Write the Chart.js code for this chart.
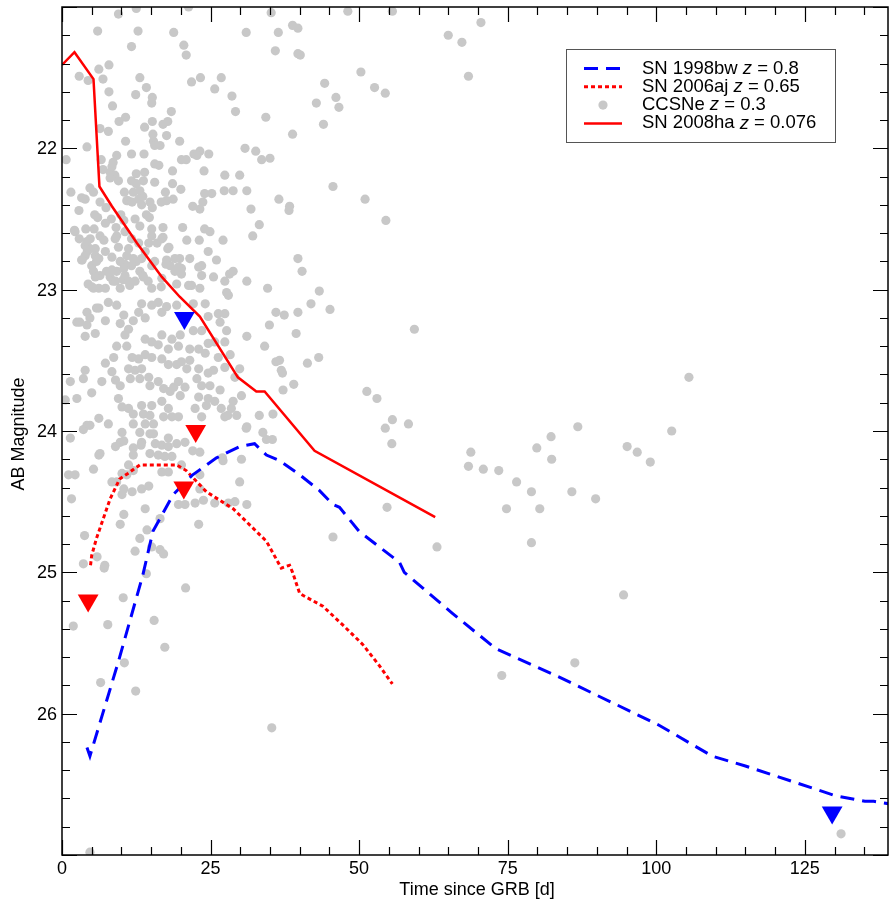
<!DOCTYPE html>
<html>
<head>
<meta charset="utf-8">
<script src="https://cdn.jsdelivr.net/npm/chart.js@4/dist/chart.umd.min.js"></script>
<style>
html,body{margin:0;padding:0;background:#fff;}
canvas{display:block;}
</style>
</head>
<body>
<canvas id="c" width="889" height="903"></canvas>
<script>
// ---------------- DATA ----------------
const xTickValues = [0, 25, 50, 75, 100, 125];
const yTickValues = [22, 23, 24, 25, 26];
const xMinorStep = 5;
const yMinorStep = 0.2;
const xTitle = 'Time since GRB [d]';
const yTitle = 'AB Magnitude';

// SN 1998bw z = 0.8 (blue dashed)
const sn1998bwX = [4.2, 4.7, 9.5, 13.6, 15.3, 18.7, 22.0, 26.0, 29.9, 32.4, 34.4, 36.6, 40.0, 43.3, 45.6, 46.7, 50.0, 56.8, 57.6, 65.7, 73.0, 83.6, 100.4, 109.4, 115.0, 130.1, 135.1, 136.6, 141.0];
const sn1998bwY = [26.24, 26.30, 25.63, 25.02, 24.71, 24.45, 24.31, 24.19, 24.11, 24.09, 24.17, 24.21, 24.31, 24.42, 24.52, 24.54, 24.71, 24.93, 25.00, 25.29, 25.54, 25.74, 26.08, 26.30, 26.37, 26.58, 26.62, 26.62, 26.65];

// SN 2006aj z = 0.65 (red dotted)
const sn2006ajX = [4.8, 5.0, 5.8, 8.1, 9.7, 11.1, 13.1, 19.3, 20.9, 24.3, 28.8, 34.4, 36.9, 38.3, 38.8, 40.0, 43.9, 47.2, 50.6, 53.4, 55.6];
const sn2006ajY = [24.95, 24.88, 24.76, 24.48, 24.34, 24.30, 24.24, 24.24, 24.28, 24.43, 24.55, 24.78, 24.97, 24.95, 25.00, 25.15, 25.24, 25.37, 25.51, 25.66, 25.79];

// SN 2008ha z = 0.076 (red solid)
const sn2008haX = [0.0, 2.1, 5.3, 6.3, 8.4, 12.6, 16.8, 19.8, 23.2, 29.6, 32.7, 34.1, 42.5, 62.8];
const sn2008haY = [21.41, 21.32, 21.51, 22.27, 22.41, 22.67, 22.91, 23.05, 23.19, 23.62, 23.72, 23.72, 24.14, 24.61];

// Upper limits (downward triangles)
const limitsBlueX = [20.6, 129.6];
const limitsBlueY = [23.20, 26.70];
const limitsRedX = [22.5, 20.5, 4.4];
const limitsRedY = [24.00, 24.40, 25.20];

// CCSNe z = 0.3 (grey dots), [time, magnitude]
const ccsnePoints = [
[9.5,21.05],[12.5,21.01],[21.3,21.0],[35.2,21.04],[6.0,21.17],[12.8,21.17],[18.8,21.18],[31.0,21.18],[36.4,21.18],[38.8,21.13],[11.7,21.28],[20.5,21.27],[20.9,21.34],[35.9,21.31],[39.7,21.33],[7.9,21.41],[6.2,21.44],[2.9,21.49],[4.4,21.52],[6.9,21.51],[13.1,21.50],[21.8,21.53],[23.3,21.50],[26.8,21.50],[7.9,21.60],[14.2,21.57],[12.4,21.62],[15.2,21.64],[15.1,21.68],[18.4,21.74],[25.7,21.58],[28.6,21.63],[29.2,21.74],[8.5,21.70],[10.7,21.78],[9.6,21.81],[34.3,21.78],[38.8,21.90],[6.4,21.86],[7.8,21.88],[13.9,21.85],[15.2,21.81],[17.0,21.83],[17.8,21.81],[15.3,21.90],[17.6,21.91],[19.8,21.95],[10.7,21.95],[15.4,21.95],[16.5,21.98],[4.2,21.99],[11.7,22.04],[13.8,22.04],[15.6,21.98],[23.2,22.02],[24.7,22.04],[20.1,22.08],[20.9,22.08],[22.2,22.04],[30.8,22.0],[32.6,22.02],[33.6,22.08],[35.0,22.07],[0.7,22.08],[9.2,22.05],[8.6,22.10],[6.9,22.15],[8.1,22.17],[8.9,22.19],[9.5,22.23],[15.6,22.11],[16.3,22.12],[12.5,22.18],[13.9,22.17],[18.6,22.16],[11.7,22.23],[12.5,22.25],[12.0,22.31],[13.1,22.30],[15.6,22.24],[18.6,22.25],[20.0,22.29],[27.4,22.19],[29.9,22.19],[1.5,22.31],[4.7,22.28],[5.3,22.31],[3.3,22.35],[28.8,22.30],[31.1,22.30],[24.0,22.32],[23.7,22.38],[22.0,22.41],[23.2,22.43],[25.2,22.32],[6.4,22.38],[7.4,22.42],[10.9,22.37],[13.6,22.34],[18.7,22.36],[17.6,22.37],[16.7,22.38],[15.2,22.42],[2.85,22.44],[36.5,22.36],[38.2,22.44],[31.8,22.43],[5.5,22.47],[8.3,22.50],[9.9,22.47],[10.4,22.51],[14.2,22.47],[13.1,22.55],[15.1,22.57],[20.3,22.56],[24.0,22.57],[24.9,22.59],[27.1,22.65],[33.2,22.54],[32.1,22.62],[2.2,22.59],[4.0,22.57],[5.4,22.57],[2.9,22.64],[3.9,22.69],[4.7,22.71],[4.25,22.73],[6.4,22.62],[7.05,22.65],[9.2,22.62],[10.6,22.59],[11.7,22.64],[17.0,22.56],[17.0,22.63],[17.8,22.71],[39.7,22.78],[3.3,22.79],[5.0,22.83],[5.8,22.80],[6.4,22.90],[7.5,22.87],[10.9,22.76],[10.6,22.82],[11.7,22.83],[12.5,22.80],[13.1,22.87],[15.1,22.83],[15.6,22.80],[17.5,22.82],[19.8,22.78],[20.1,22.85],[23.5,22.83],[28.2,22.89],[4.4,22.96],[5.3,22.99],[8.1,22.91],[8.6,22.94],[10.3,22.93],[11.4,22.97],[13.6,22.90],[14.5,22.94],[16.7,22.98],[19.3,22.96],[21.8,22.97],[23.5,22.90],[27.7,23.02],[34.6,22.99],
[48.1,21.03],[55.6,21.03],[39.7,21.15],[70.5,21.11],[65.0,21.20],[67.3,21.25],[68.4,21.49],[40.1,21.34],[50.3,21.46],[44.2,21.54],[52.6,21.57],[54.4,21.61],[42.8,21.68],[46.1,21.64],[46.6,21.71],[44.0,21.83],[45.6,22.27],[51.0,22.36],[38.3,22.41],[54.5,22.51],[40.4,22.87],[43.3,23.01],
[41.9,23.10],[45.1,23.14],[39.7,23.16],[37.4,23.18],[39.4,23.31],[59.3,23.28],[36.6,23.50],[37.1,23.59],[37.2,23.71],[39.0,23.67],[41.3,23.52],[43.2,23.48],[51.3,23.72],[53.0,23.77],[55.6,23.92],[54.4,23.98],[58.3,23.95],[55.5,24.09],[68.8,24.15],[68.4,24.25],[70.9,24.27],[73.5,24.28],[76.5,24.36],[79.0,24.43],[74.8,24.55],[80.4,24.55],[79.9,24.12],[82.3,24.04],[82.4,24.20],[85.8,24.43],[86.8,23.97],[79.0,24.79],[54.7,24.54],[45.6,24.75],[63.1,24.82],
[105.5,23.62],[102.6,24.0],[95.1,24.11],[96.8,24.15],[99.0,24.22],[89.8,24.48],[74.0,25.73],[86.3,25.64],[94.5,25.16],[131.1,26.85],
[7.1,24.97],[14.2,25.01],[20.8,25.11],[10.3,25.18],[1.9,25.38],[7.7,25.37],[15.5,25.34],[17.3,25.53],[10.5,25.64],[6.5,25.78],[12.4,25.84],[35.3,26.10],[4.7,26.98],
[6.6,22.08],[8.4,22.13],[8.1,22.21],[22.7,22.05],[23.9,22.16],[13.7,22.23],[17.4,22.31],[3.9,22.36],[10.5,22.31],[11.1,22.37],[11.8,22.38],[12.9,22.36],[13.4,22.40],[14.8,22.38],[27.3,22.30],[6.0,22.49],[7.3,22.53],[9.1,22.56],[12.3,22.50],[14.7,22.49],[21.0,22.65],[23.1,22.65],[2.1,22.58],[4.2,22.66],[4.75,22.64],[5.6,22.71],[3.9,22.76],[5.6,22.76],[6.2,22.78],[8.95,22.64],[7.3,22.73],[8.4,22.77],[9.5,22.70],[9.8,22.80],[11.2,22.71],[12.9,22.67],[12.0,22.78],[13.4,22.78],[14.0,22.73],[14.6,22.67],[16.0,22.67],[15.1,22.62],[16.8,22.64],[18.0,22.70],[19.0,22.78],[17.6,22.79],[19.6,22.84],[20.1,22.89],[21.5,22.78],[23.0,22.84],[24.6,22.73],[26.0,22.79],[25.5,22.91],[27.4,22.94],[28.8,22.87],[28.0,23.04],[31.1,22.94],[3.4,22.79],[5.3,22.87],[5.6,22.91],[5.0,22.98],[6.2,22.99],[7.3,22.99],[8.4,22.86],[9.2,22.87],[10.4,22.85],[10.6,22.90],[9.0,22.94],[9.8,22.99],[11.2,22.94],[13.7,22.91],[12.3,22.94],[15.1,22.99],[16.8,22.92],[18.2,22.83],[19.0,22.87],[21.3,22.97],[23.2,22.99],
[2.5,23.23],[3.9,23.33],[4.2,23.25],[5.6,23.31],[7.3,23.22],[6.2,23.13],[4.2,23.16],[7.8,23.09],[9.2,23.11],[10.4,23.18],[9.8,23.24],[11.2,23.28],[10.6,23.32],[12.0,23.22],[12.9,23.16],[13.4,23.10],[14.0,23.20],[15.1,23.11],[16.2,23.09],[16.8,23.16],[17.6,23.12],[19.3,23.11],[22.1,23.10],[24.1,23.10],[24.6,23.19],[26.3,23.17],[27.4,23.17],[26.6,23.23],[31.1,23.33],[27.7,23.29],[27.4,23.37],[25.7,23.37],[24.6,23.38],[23.5,23.29],[22.1,23.29],[24.1,23.45],[26.3,23.48],[28.3,23.46],[27.4,23.55],[25.5,23.57],[29.1,23.62],[29.9,23.56],[16.8,23.32],[18.5,23.35],[19.9,23.32],[19.6,23.40],[17.9,23.42],[16.2,23.39],[15.1,23.37],[14.0,23.35],[21.5,23.42],[23.0,23.42],[21.5,23.50],[20.1,23.51],[21.0,23.56],[23.0,23.56],[24.6,23.59],[7.3,23.52],[8.7,23.48],[9.2,23.40],[10.9,23.40],[11.8,23.48],[12.9,23.49],[14.0,23.46],[15.1,23.48],[16.8,23.49],[17.9,23.53],[19.3,23.53],[3.9,23.57],[3.6,23.63],[1.4,23.65],[0.55,23.78],[2.5,23.77],[5.0,23.73],[6.7,23.65],[8.4,23.58],[9.0,23.64],[9.8,23.68],[11.2,23.56],[11.5,23.63],[12.3,23.57],[13.4,23.56],[13.1,23.63],[14.6,23.62],[14.8,23.68],[16.2,23.65],[17.1,23.70],[18.2,23.72],[18.8,23.69],[19.6,23.65],[20.7,23.69],[19.9,23.75],[22.7,23.63],[23.5,23.68],[24.9,23.68],[26.6,23.71],[23.0,23.76],[24.6,23.77],[25.7,23.79],[28.5,23.84],[29.4,23.89],[27.4,23.90],[30.2,23.75],[9.5,23.77],[10.1,23.83],[11.2,23.84],[12.0,23.88],[13.4,23.82],[13.7,23.88],[15.1,23.82],[14.8,23.89],[16.8,23.79],[17.9,23.84],[17.1,23.90],[18.5,23.90],[19.6,23.90],[15.4,23.95],[14.0,23.95],[12.0,23.95],[6.2,23.91],[7.8,23.95],[4.2,23.96],[3.6,23.99],[1.4,24.05],[10.1,24.01],[9.8,24.08],[13.1,24.01],[14.8,24.02],[15.4,24.02],[17.9,24.05],[16.8,24.10],[19.3,24.09],[13.4,24.08],[22.4,23.84],[23.5,23.90],[31.1,23.97],
[9.0,24.11],[10.4,24.07],[12.0,24.12],[13.3,24.10],[15.7,24.09],[17.9,24.11],[14.8,24.16],[16.2,24.17],[17.3,24.18],[18.5,24.18],[12.0,24.17],[6.2,24.17],[20.7,24.08],[22.0,24.14],[23.2,24.15],[20.1,24.24],[16.8,24.29],[17.9,24.29],[11.2,24.24],[12.0,24.28],[10.9,24.31],[10.1,24.30],[1.1,24.31],[2.2,24.31],[5.3,24.27],[27.1,24.21],[30.2,24.20],[8.4,24.36],[9.2,24.36],[10.4,24.41],[11.8,24.43],[13.4,24.41],[14.6,24.39],[10.1,24.45],[1.6,24.48],[23.2,24.31],[23.2,24.41],[23.8,24.49],[19.6,24.52],[20.7,24.52],[22.4,24.51],[25.7,24.51],[28.0,24.51],[29.1,24.50],[31.1,24.52],[14.0,24.55],[10.4,24.59],[9.8,24.66],[16.5,24.62],[23.0,24.66],[14.3,24.70],[13.1,24.76],[12.3,24.85],[15.1,24.82],[16.5,24.84],[17.1,24.87],[3.8,24.74],[5.9,24.89],[3.6,24.94],[7.2,24.95],
[36.0,23.16],[34.9,23.25],[34.1,23.40],[36.0,23.51],[36.9,23.57],[35.5,23.88],[33.2,23.89],[33.8,24.01],[34.4,24.06],[35.4,24.06],[31.0,23.98],[27.9,23.89],[24.3,23.82],[26.8,23.84],[28.8,23.79],[27.0,24.19],[29.9,24.36],[3.0,23.23],[4.7,23.20],[5.8,23.13],[6.4,24.16],[4.7,23.96]
];

const legendEntries = [
  {name: 'SN 1998bw ', z: '0.8'},
  {name: 'SN 2006aj ', z: '0.65'},
  {name: 'CCSNe ', z: '0.3'},
  {name: 'SN 2008ha ', z: '0.076'}
];

// ---------------- CHART ----------------
const FONT = '"Liberation Sans", Arial, Helvetica, sans-serif';
Chart.defaults.font.family = FONT;
Chart.defaults.color = '#000';

const zip = (xs, ys) => xs.map((x, i) => ({x: x, y: ys[i]}));

const BLUE = '#0000ff', RED = '#ff0000', GREY = '#c8c8c8';

const datasets = [
  {label: 'limitsBlue', data: zip(limitsBlueX, limitsBlueY), showLine: false, pointStyle: 'triangle', rotation: 180, pointRadius: 12, backgroundColor: BLUE, borderWidth: 0, order: 0},
  {label: 'limitsRed', data: zip(limitsRedX, limitsRedY), showLine: false, pointStyle: 'triangle', rotation: 180, pointRadius: 12, backgroundColor: RED, borderWidth: 0, order: 0},
  {label: 'SN 1998bw', data: zip(sn1998bwX, sn1998bwY), showLine: true, borderColor: BLUE, borderWidth: 3, borderDash: [14, 8], pointRadius: 0, fill: false, order: 2},
  {label: 'SN 2006aj', data: zip(sn2006ajX, sn2006ajY), showLine: true, borderColor: RED, borderWidth: 3, borderDash: [4, 3], pointRadius: 0, fill: false, order: 2},
  {label: 'SN 2008ha', data: zip(sn2008haX, sn2008haY), showLine: true, borderColor: RED, borderWidth: 2.5, pointRadius: 0, fill: false, order: 2},
  {label: 'CCSNe', data: ccsnePoints.map(p => ({x: p[0], y: p[1]})), showLine: false, pointRadius: 4.6, backgroundColor: GREY, borderWidth: 0, order: 10}
];

const framePlugin = {
  id: 'frame',
  afterDatasetsDraw(chart) {
    const {ctx, chartArea: a, scales: {x, y}} = chart;
    ctx.save();
    ctx.strokeStyle = '#000';
    ctx.lineWidth = 1.5;
    ctx.strokeRect(a.left, a.top, a.right - a.left, a.bottom - a.top);
    ctx.lineWidth = 1.2;
    const MAJ = 15, MIN = 8;
    ctx.beginPath();
    for (let v = x.min; v <= x.max + 1e-9; v += xMinorStep) {
      const px = Math.round(x.getPixelForValue(v)) + 0.5;
      const len = xTickValues.includes(Math.round(v)) ? MAJ : MIN;
      ctx.moveTo(px, a.bottom); ctx.lineTo(px, a.bottom - len);
      ctx.moveTo(px, a.top); ctx.lineTo(px, a.top + len);
    }
    for (let k = 0; ; k++) {
      const v = y.min + k * yMinorStep;
      if (v > y.max + 1e-9) break;
      const py = Math.round(y.getPixelForValue(v)) + 0.5;
      const isMaj = Math.abs(v - Math.round(v)) < 1e-6;
      const len = isMaj ? MAJ : MIN;
      ctx.moveTo(a.left, py); ctx.lineTo(a.left + len, py);
      ctx.moveTo(a.right, py); ctx.lineTo(a.right - len, py);
    }
    ctx.stroke();

    // tick labels and axis titles
    ctx.fillStyle = '#000';
    ctx.font = '18px ' + FONT;
    ctx.textAlign = 'center';
    ctx.textBaseline = 'middle';
    xTickValues.forEach(v => ctx.fillText(String(v), x.getPixelForValue(v), a.bottom + 14.5));
    ctx.textAlign = 'right';
    yTickValues.forEach(v => ctx.fillText(String(v), a.left - 5, y.getPixelForValue(v) + 1));
    ctx.textAlign = 'center';
    ctx.fillText(xTitle, (a.left + a.right) / 2 + 2, a.bottom + 35);
    ctx.save();
    ctx.translate(19, (a.top + a.bottom) / 2 + 3);
    ctx.rotate(-Math.PI / 2);
    ctx.fillText(yTitle, 0, 0);
    ctx.restore();
    ctx.restore();
  }
};

const legendPlugin = {
  id: 'customLegend',
  afterDraw(chart) {
    const {ctx} = chart;
    const ds = chart.data.datasets;
    const bx = 566, by = 49.5, bw = 269, bh = 93;
    ctx.save();
    ctx.fillStyle = '#fff';
    ctx.fillRect(bx, by, bw, bh);
    ctx.strokeStyle = '#555';
    ctx.lineWidth = 1;
    ctx.strokeRect(bx + 0.5, by, bw, bh);
    const rows = [68.5, 86.8, 105.1, 123.4];
    const sampleX0 = 584, sampleX1 = 622, textX = 642;
    const styles = [ds[2], ds[3], ds[5], ds[4]];
    const fs = 18.5;
    styles.forEach((d, i) => {
      const yy = rows[i];
      if (d.showLine) {
        ctx.beginPath();
        ctx.strokeStyle = d.borderColor;
        ctx.lineWidth = d.borderWidth;
        ctx.setLineDash(d.borderDash || []);
        ctx.moveTo(sampleX0, yy); ctx.lineTo(sampleX1, yy);
        ctx.stroke();
        ctx.setLineDash([]);
      } else {
        ctx.beginPath();
        ctx.fillStyle = d.backgroundColor;
        ctx.arc(603, yy, d.pointRadius, 0, Math.PI * 2);
        ctx.fill();
      }
      const e = legendEntries[i];
      ctx.fillStyle = '#000';
      ctx.textBaseline = 'middle';
      ctx.textAlign = 'left';
      let tx = textX;
      ctx.font = fs + 'px ' + FONT;
      ctx.fillText(e.name, tx, yy); tx += ctx.measureText(e.name).width;
      ctx.font = 'italic ' + fs + 'px ' + FONT;
      ctx.fillText('z', tx, yy); tx += ctx.measureText('z').width;
      ctx.font = fs + 'px ' + FONT;
      const rest = ' = ' + e.z;
      ctx.fillText(rest, tx, yy);
    });
    ctx.restore();
  }
};

new Chart(document.getElementById('c').getContext('2d'), {
  type: 'scatter',
  data: {datasets: datasets},
  options: {
    responsive: false,
    animation: false,
    devicePixelRatio: 1,
    layout: {autoPadding: false, padding: {top: 7, right: 1, left: 0, bottom: 0}},
    plugins: {legend: {display: false}, tooltip: {enabled: false}},
    scales: {
      x: {
        type: 'linear', min: 0, max: 139,
        afterFit(s) { s.height = 48; },
        afterBuildTicks(s) { s.ticks = xTickValues.map(v => ({value: v})); },
        grid: {display: false, drawTicks: false},
        border: {display: false},
        ticks: {display: false},
        title: {display: false}
      },
      y: {
        type: 'linear', min: 21, max: 27, reverse: true,
        afterFit(s) { s.width = 62; },
        afterBuildTicks(s) { s.ticks = yTickValues.map(v => ({value: v})); },
        grid: {display: false, drawTicks: false},
        border: {display: false},
        ticks: {display: false},
        title: {display: false}
      }
    }
  },
  plugins: [framePlugin, legendPlugin]
});
</script>
</body>
</html>
